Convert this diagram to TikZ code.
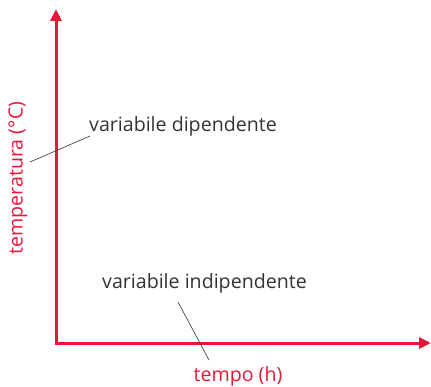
\documentclass[tikz,border=0pt]{standalone}
\usepackage{fontspec}
\setmainfont{Open Sans}
\usetikzlibrary{arrows.meta}
\definecolor{axred}{HTML}{E8173A}
\definecolor{txtgray}{HTML}{333333}
\tikzset{
  axis/.style={draw=axred, line width=3pt, -{Triangle[length=12pt,width=11pt]}},
  lbl/.style={text=txtgray, font=\fontsize{19.6}{22}\selectfont, inner sep=0pt},
  axlbl/.style={text=axred, font=\fontsize{19.6}{22}\selectfont, inner sep=0pt},
  leader/.style={draw=txtgray, line width=0.6pt}
}
\begin{document}
\begin{tikzpicture}[x=1pt,y=-1pt]
\useasboundingbox (0,0) rectangle (431,387);
\coordinate (O) at (56,343);
\coordinate (Ytip) at (56,9);
\coordinate (Xtip) at (431,343);
\draw[axis] (56,344.5) -- (Ytip);
\draw[axis] (54.5,343) -- (Xtip);
\node[axlbl, rotate=90] (ylab) at (18,178) {temperatura (°C)};
\node[axlbl] (xlab) at (238,376) {tempo (h)};
\node[lbl, anchor=west] (dep) at (89,126) {variabile dipendente};
\node[lbl, anchor=west] (indep) at (102,283) {variabile indipendente};
\coordinate (d1) at (30,162);
\coordinate (d2) at (90,136);
\coordinate (i1) at (178,302);
\coordinate (i2) at (209,360);
\draw[leader] (d1) -- (d2);
\draw[leader] (i1) -- (i2);
\end{tikzpicture}
\end{document}
